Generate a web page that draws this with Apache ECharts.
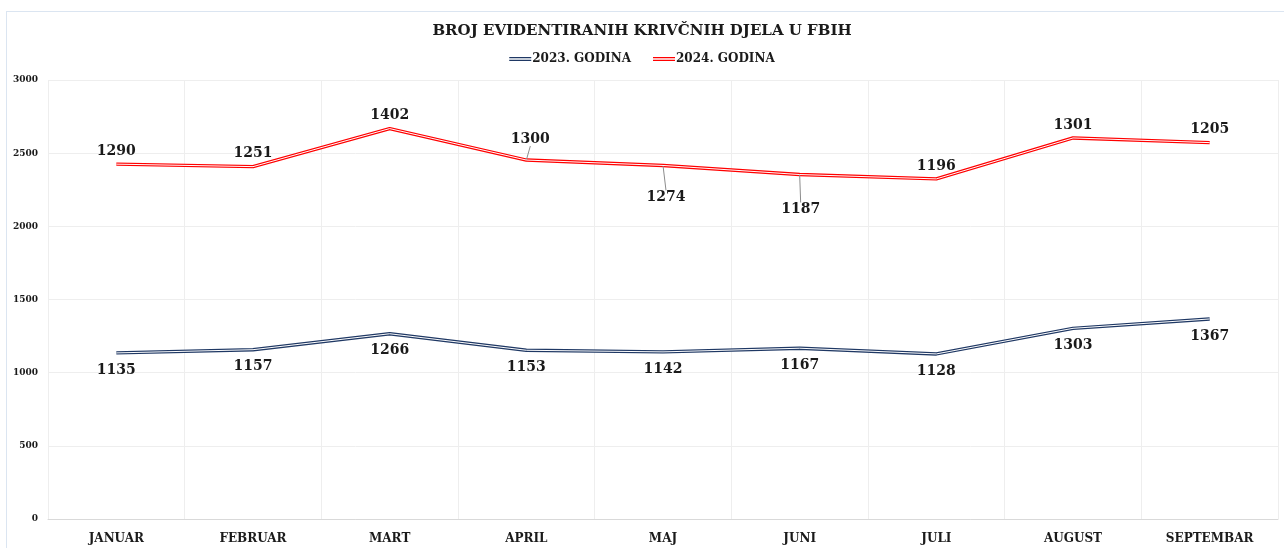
<!DOCTYPE html>
<html>
<head>
<meta charset="utf-8">
<script src="https://cdn.jsdelivr.net/npm/echarts@6/dist/echarts.min.js"></script>
<style>
html,body{margin:0;padding:0;background:#fff;}
#frame{position:absolute;left:6px;top:11px;width:1290px;height:560px;border-left:1px solid #dbe5f1;border-top:1px solid #dbe5f1;}
#chart{position:absolute;left:0;top:0;width:1284px;height:548px;}
</style>
</head>
<body>
<div id="frame"></div>
<div id="chart"></div>
<script>
const categories = ['JANUAR','FEBRUAR','MART','APRIL','MAJ','JUNI','JULI','AUGUST','SEPTEMBAR'];
const values2023 = [1135,1157,1266,1153,1142,1167,1128,1303,1367];
const values2024 = [1290,1251,1402,1300,1274,1187,1196,1301,1205];
const seriesNames = ['2023. GODINA','2024. GODINA'];
const titleText = 'BROJ EVIDENTIRANIH KRIVČNIH DJELA U FBIH';

const FONT = "DejaVu Serif";
const chart = echarts.init(document.getElementById('chart'), null, {renderer:'canvas'});
const labelStyle = {show:true, fontFamily:FONT, fontWeight:'bold', fontSize:14, color:'#1a1a1a'};
const icon = 'path://M0,0H24V1.2H0Z M0,3H24V4.2H0Z';

// per-point label adjustments for 2024 (labels moved off the line get a leader line)
const shift24 = {3:{dx:4,dy:-8}, 4:{dx:3,dy:45}, 5:{dx:1,dy:48}};
const data2024 = values2024.map(function(v,i){
  return shift24[i] ? {value:v, labelLine:{show:true}} : v;
});

chart.setOption({
  animation:false,
  title:{text:titleText, left:'center', top:19,
    textStyle:{fontFamily:FONT, fontWeight:'bold', fontSize:15, color:'#1a1a1a'}},
  legend:{data:[{name:seriesNames[0], icon:icon},{name:seriesNames[1], icon:icon}],
    top:48, left:'center', itemWidth:22, itemHeight:5, itemGap:22,
    textStyle:{fontFamily:FONT, fontWeight:'bold', fontSize:12, color:'#1a1a1a', padding:[0,0,0,-4]}},
  grid:{left:48, right:6, top:80, bottom:29},
  xAxis:{type:'category', data:categories, boundaryGap:true,
    axisLine:{lineStyle:{color:'#d9d9d9'}}, axisTick:{show:false},
    splitLine:{show:true, lineStyle:{color:'#eeeeee'}},
    axisLabel:{margin:14, fontFamily:FONT, fontWeight:'bold', fontSize:12, color:'#1a1a1a'}},
  yAxis:{type:'value', min:0, max:3000, interval:500,
    axisLine:{show:false}, axisTick:{show:false},
    splitLine:{lineStyle:{color:'#eeeeee'}},
    axisLabel:{margin:10, formatter:function(v){return String(v);}, fontFamily:FONT, fontWeight:'bold', fontSize:9, color:'#1a1a1a'}},
  series:[
    {name:seriesNames[0], type:'line', stack:'total', data:values2023,
      symbol:'circle', symbolSize:0.01, showSymbol:true, itemStyle:{color:'#1f3864'},
      lineStyle:{width:3.4, color:'#1f3864'},
      label:Object.assign({position:'bottom', distance:10}, labelStyle), z:2},
    {name:seriesNames[1], type:'line', stack:'total', data:data2024,
      symbol:'circle', symbolSize:0.01, showSymbol:true, itemStyle:{color:'#ff0000'},
      lineStyle:{width:3.4, color:'#ff0000'},
      label:Object.assign({position:'top', distance:6}, labelStyle),
      labelLine:{show:false, lineStyle:{color:'#8c8c8c', width:1}},
      labelLayout:function(p){ const s = shift24[p.dataIndex]; return s ? {dx:s.dx, dy:s.dy} : {}; },
      z:2},
    {name:'w1', type:'line', stack:'white', data:values2023, symbol:'none', silent:true,
      lineStyle:{width:1, color:'#ffffff'}, z:3, tooltip:{show:false}},
    {name:'w2', type:'line', stack:'white', data:values2024, symbol:'none', silent:true,
      lineStyle:{width:1, color:'#ffffff'}, z:3, tooltip:{show:false}}
  ]
});
</script>
</body>
</html>
